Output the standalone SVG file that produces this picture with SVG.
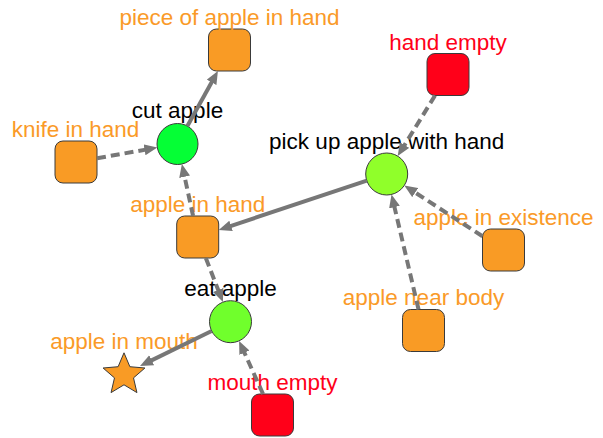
<svg xmlns="http://www.w3.org/2000/svg" width="603" height="438" viewBox="0 0 603 438">
<style>
text{font-family:"Liberation Sans",Arial,sans-serif;font-size:22.5px;text-anchor:middle}
.lo{fill:#FA9A28}.lr{fill:#FF0019}.lb{fill:#000}
.box{stroke:#3a3a3a;stroke-width:1}
.or{fill:#F99B25}.rd{fill:#FF0019}
.edge{fill:none;stroke:#777;stroke-width:4;marker-end:url(#ah)}
.dash{stroke-dasharray:9 5}
</style>
<defs>
<marker id="ah" markerUnits="userSpaceOnUse" markerWidth="14" markerHeight="12" refX="3" refY="5.5" orient="auto">
<path d="M0,0 L13,5.5 L0,11 z" fill="#777"/>
</marker>
</defs>
<g id="n-piece"><rect class="box or" x="208.5" y="29" width="42" height="42" rx="8"/><text class="lo" x="229.5" y="25">piece of apple in hand</text></g>
<g id="n-knife"><rect class="box or" x="55" y="141" width="42" height="42" rx="8"/><text class="lo" x="75.5" y="136.5">knife in hand</text></g>
<g id="n-cut"><circle class="box" fill="#05FF35" cx="177.5" cy="144" r="20.5"/><text class="lb" x="177.5" y="118">cut apple</text></g>
<g id="n-handempty"><rect class="box rd" x="427" y="53.5" width="42" height="42" rx="8"/><text class="lr" x="448" y="50">hand empty</text></g>
<g id="n-pickup"><circle class="box" fill="#90FF2A" cx="386.7" cy="174" r="21"/><text class="lb" x="386.7" y="148.5">pick up apple with hand</text></g>
<g id="n-applehand"><rect class="box or" x="176.7" y="216" width="42" height="42" rx="8"/><text class="lo" x="197.7" y="211.5">apple in hand</text></g>
<g id="n-existence"><rect class="box or" x="482.5" y="229" width="42" height="42" rx="8"/><text class="lo" x="503.5" y="224.5">apple in existence</text></g>
<g id="n-eat"><circle class="box" fill="#70FF2C" cx="230.5" cy="321.7" r="21"/><text class="lb" x="230.5" y="296">eat apple</text></g>
<g id="n-nearbody"><rect class="box or" x="402.5" y="309.5" width="42" height="42" rx="8"/><text class="lo" x="423.5" y="305">apple near body</text></g>
<g id="n-mouth"><polygon class="box or" points="124,352.8 129.88,366.71 144.92,368 133.51,377.89 136.93,392.6 124,384.8 111.07,392.6 114.49,377.89 103.08,368 118.12,366.71"/><text class="lo" x="124" y="349">apple in mouth</text></g>
<g id="n-mouthempty"><rect class="box rd" x="251.5" y="394" width="42" height="42" rx="8"/><text class="lr" x="272.5" y="389.5">mouth empty</text></g>
<g id="connectors">
<line class="edge" x1="187.4" y1="126" x2="213.06" y2="79.75"/>
<line class="edge dash" x1="97" y1="158.3" x2="147.5" y2="149.3"/>
<line class="edge dash" x1="193.1" y1="216" x2="183.97" y2="173.8"/>
<line class="edge dash" x1="435.06" y1="95.5" x2="402.96" y2="147.6"/>
<line class="edge dash" x1="482.5" y1="236.3" x2="412.7" y2="190.9"/>
<line class="edge dash" x1="418.56" y1="309.5" x2="393.8" y2="204.2"/>
<line class="edge" x1="366.8" y1="180.6" x2="228.2" y2="226.8"/>
<line class="edge dash" x1="205.8" y1="258" x2="219.3" y2="292.8"/>
<line class="edge dash" x1="263.05" y1="394" x2="243.2" y2="350"/>
<line class="edge" x1="211.65" y1="330.96" x2="149" y2="361.6"/>
</g>
</svg>
